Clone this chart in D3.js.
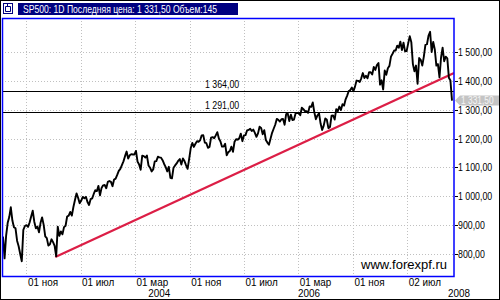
<!DOCTYPE html>
<html lang="ru">
<head>
<meta charset="UTF-8">
<title>SP500 1D</title>
<script src="https://d3js.org/d3.v7.min.js"></script>
<style>
  body { margin: 0; background: #fff; }
  svg { display: block; font-family: "Liberation Sans", Arial, sans-serif; }
</style>
</head>
<body>
<script>
const width = 500;
const height = 300;

// weekly values, one array per year (first week ends 19 Jul 2002)
const firstWeek = new Date(2002, 6, 19);
const v2002 = [860, 785, 864, 908, 928, 962, 916, 893, 889, 846, 827, 800, 775, 884, 897, 900, 894, 909, 930, 950, 912, 889, 895, 875];
const v2003 = [908, 927, 901, 861, 855, 829, 834, 851, 841, 828, 792, 895, 863, 878, 868, 893, 898, 930, 933, 946, 933, 963,
               987, 1010, 995, 976, 985, 998, 993, 998, 980, 970, 990, 993, 1008, 1021, 1018, 1036, 1003, 1029, 1038, 1039,
               1028, 1050, 1053, 1050, 1035, 1058, 1061, 1074, 1088, 1095];
const v2004 = [1108, 1121, 1139, 1155, 1131, 1142, 1146, 1145, 1145, 1157, 1120, 1110, 1092, 1141, 1139, 1134, 1141, 1107,
               1099, 1086, 1093, 1121, 1122, 1137, 1135, 1134, 1125, 1112, 1101, 1086, 1102, 1064, 1062, 1099, 1107, 1114,
               1123, 1129, 1110, 1131, 1122, 1108, 1095, 1130, 1167, 1185, 1171, 1182, 1191, 1189, 1194, 1211, 1212];
const v2005 = [1186, 1184, 1168, 1171, 1203, 1205, 1201, 1211, 1222, 1200, 1190, 1172, 1172, 1182, 1142, 1153, 1157, 1172,
               1154, 1189, 1198, 1196, 1201, 1217, 1191, 1211, 1212, 1228, 1230, 1234, 1226, 1231, 1220, 1206, 1218, 1241,
               1237, 1215, 1229, 1195, 1186, 1179, 1199, 1220, 1234, 1248, 1268, 1265, 1259, 1267, 1268, 1248];
const v2006 = [1285, 1287, 1261, 1283, 1264, 1266, 1287, 1289, 1287, 1281, 1307, 1302, 1295, 1295, 1289, 1311, 1310, 1325,
               1291, 1267, 1280, 1288, 1252, 1230, 1245, 1270, 1265, 1236, 1240, 1279, 1280, 1266, 1302, 1295, 1311, 1299,
               1319, 1314, 1336, 1349, 1365, 1368, 1377, 1364, 1380, 1401, 1400, 1396, 1409, 1427, 1410, 1418];
const v2007 = [1409, 1430, 1430, 1422, 1448, 1438, 1455, 1462, 1387, 1402, 1370, 1436, 1421, 1444, 1452, 1484, 1494, 1505,
               1505, 1522, 1515, 1536, 1507, 1532, 1502, 1503, 1530, 1555, 1534, 1458, 1433, 1453, 1390, 1479, 1473, 1453,
               1484, 1525, 1527, 1557, 1570, 1500, 1535, 1509, 1453, 1458, 1412, 1481, 1515, 1468, 1484, 1478];
const v2008 = [1411, 1401, 1331.5];
const closes = [].concat(v2002, v2003, v2004, v2005, v2006, v2007, v2008);

const yTicks = [800, 900, 1000, 1100, 1200, 1300, 1400, 1500];
const xTickDates = ["2002-11-01", "2003-07-01", "2004-03-01", "2004-11-01", "2005-07-01", "2006-03-01", "2006-11-01", "2007-07-02"];
const xTickLabels = ["01 ноя", "01 июл", "01 мар", "01 ноя", "01 июл", "01 мар", "01 ноя", "02 июл"];
const yearDates = ["2004-04-29", "2006-02-28", "2007-12-31"];
const yearLabels = ["2004", "2006", "2008"];
const levels = [1364, 1291];
const trendDates = ["2003-03-10", "2008-01-27"];
const trendValues = [790, 1427];
const lastPrice = 1331.5;

const parse = d3.timeParse("%Y-%m-%d");
const ru = d3.formatLocale({decimal: ",", thousands: " ", grouping: [3], currency: ["", ""]});
const fmt = ru.format(",.2f");
// the terminal font is narrow: squeeze number labels horizontally
const narrow = (px, py) => `translate(${px},${py}) scale(0.8,1)`;

const data = closes.map((v, i) => ({date: d3.timeDay.offset(firstWeek, 7 * i), value: v}));

const plot = {left: 2, top: 18, right: 454, bottom: 276};

const x = d3.scaleTime()
    .domain([firstWeek, data[data.length - 1].date])
    .range([3, 452]);
const y = d3.scaleLinear()
    .domain([800, 1500])
    .range([254, 52]);

const svg = d3.select("body").append("svg")
    .attr("width", width)
    .attr("height", height);

svg.append("rect").attr("width", width).attr("height", height).attr("fill", "#fff");

svg.append("clipPath").attr("id", "clip")
  .append("rect")
    .attr("x", plot.left).attr("y", plot.top)
    .attr("width", plot.right - plot.left).attr("height", plot.bottom - plot.top);

// grid
const grid = svg.append("g").attr("stroke", "#c0c0c0").attr("stroke-dasharray", "1,2");
grid.selectAll(".h").data(yTicks).join("line")
    .attr("x1", plot.left).attr("x2", plot.right)
    .attr("y1", d => Math.round(y(d)) + 0.5).attr("y2", d => Math.round(y(d)) + 0.5);
grid.selectAll(".v").data(xTickDates).join("line")
    .attr("x1", d => Math.round(x(parse(d))) + 0.5).attr("x2", d => Math.round(x(parse(d))) + 0.5)
    .attr("y1", plot.top).attr("y2", plot.bottom);

const inner = svg.append("g").attr("clip-path", "url(#clip)");

// horizontal levels
inner.selectAll(".lvl").data(levels).join("line")
    .attr("x1", plot.left).attr("x2", plot.right)
    .attr("y1", d => Math.round(y(d)) + 0.5).attr("y2", d => Math.round(y(d)) + 0.5)
    .attr("stroke", "#000");
inner.selectAll(".lvlt").data(levels).join("text")
    .attr("transform", d => narrow(205, y(d) - 3))
    .attr("font-size", 11).attr("fill", "#000")
    .text(d => fmt(d));

// trend line
inner.append("path")
    .datum(trendDates.map((d, i) => ({date: parse(d), value: trendValues[i]})))
    .attr("d", d3.line().x(d => x(d.date)).y(d => y(d.value)))
    .attr("stroke", "#dc1e46").attr("stroke-width", 2.2).attr("fill", "none");

// price line
inner.append("path")
    .datum(data)
    .attr("d", d3.line().x(d => x(d.date)).y(d => y(d.value)))
    .attr("stroke", "#000").attr("stroke-width", 1.9).attr("stroke-linejoin", "round").attr("fill", "none");

inner.append("text")
    .attr("x", 447).attr("y", 269)
    .attr("text-anchor", "end")
    .attr("font-size", 13).attr("fill", "#000")
    .text("www.forexpf.ru");

// plot frame
svg.append("rect")
    .attr("x", plot.left + 0.5).attr("y", plot.top + 0.5)
    .attr("width", plot.right - plot.left - 0.5).attr("height", plot.bottom - plot.top)
    .attr("fill", "none").attr("stroke", "#0000ff").attr("stroke-width", 1.5);

// y axis on the right
const yAxis = svg.append("g");
yAxis.selectAll("line").data(yTicks).join("line")
    .attr("x1", plot.right + 1).attr("x2", plot.right + 4)
    .attr("y1", d => Math.round(y(d)) + 0.5).attr("y2", d => Math.round(y(d)) + 0.5)
    .attr("stroke", "#000");
yAxis.selectAll("text").data(yTicks).join("text")
    .attr("transform", d => narrow(458, y(d) + 4))
    .attr("font-size", 11).attr("fill", "#000")
    .text(d => fmt(d));

// last price tag
const ly = y(lastPrice);
svg.append("path")
    .attr("d", `M${plot.right + 1},${ly} L${plot.right + 6},${ly - 5} L499,${ly - 5} L499,${ly + 5} L${plot.right + 6},${ly + 5} Z`)
    .attr("fill", "#c4c4c4");
svg.append("text")
    .attr("transform", narrow(461, ly + 3.5))
    .attr("font-size", 10.5).attr("fill", "#f4f4f4")
    .text(fmt(lastPrice));

// x axis labels
const xAxis = svg.append("g").attr("font-size", 11).attr("fill", "#000");
xAxis.selectAll(".m").data(xTickDates).join("text")
    .attr("transform", d => `translate(${x(parse(d)) + 1.5},285.5) scale(0.9,1)`)
    .text((d, i) => xTickLabels[i]);
xAxis.selectAll(".yr").data(yearDates).join("text")
    .attr("transform", d => `translate(${x(parse(d))},296.5) scale(0.9,1)`)
    .text((d, i) => yearLabels[i]);

// title bar
svg.append("rect").attr("x", 3.5).attr("y", 3.5).attr("width", 9).attr("height", 10)
    .attr("fill", "#fff").attr("stroke", "#000080");
svg.append("path").attr("d", "M5.5,6.5 H10.5 M5.5,6.5 V11.5 H10.5 V6.5 M7.5,4 V6.5")
    .attr("fill", "none").attr("stroke", "#000080");
svg.append("rect").attr("x", 18).attr("y", 3).attr("width", 220).attr("height", 12).attr("fill", "#000080");
svg.append("text")
    .attr("x", 23).attr("y", 13)
    .attr("font-size", 11.5).attr("fill", "#fff")
    .attr("textLength", 194).attr("lengthAdjust", "spacingAndGlyphs")
    .text("SP500: 1D Последняя цена: 1 331,50 Объем:145");

// outer border
svg.append("rect").attr("x", 0.5).attr("y", 0.5).attr("width", width - 1).attr("height", height - 1)
    .attr("fill", "none").attr("stroke", "#000");
</script>
</body>
</html>
